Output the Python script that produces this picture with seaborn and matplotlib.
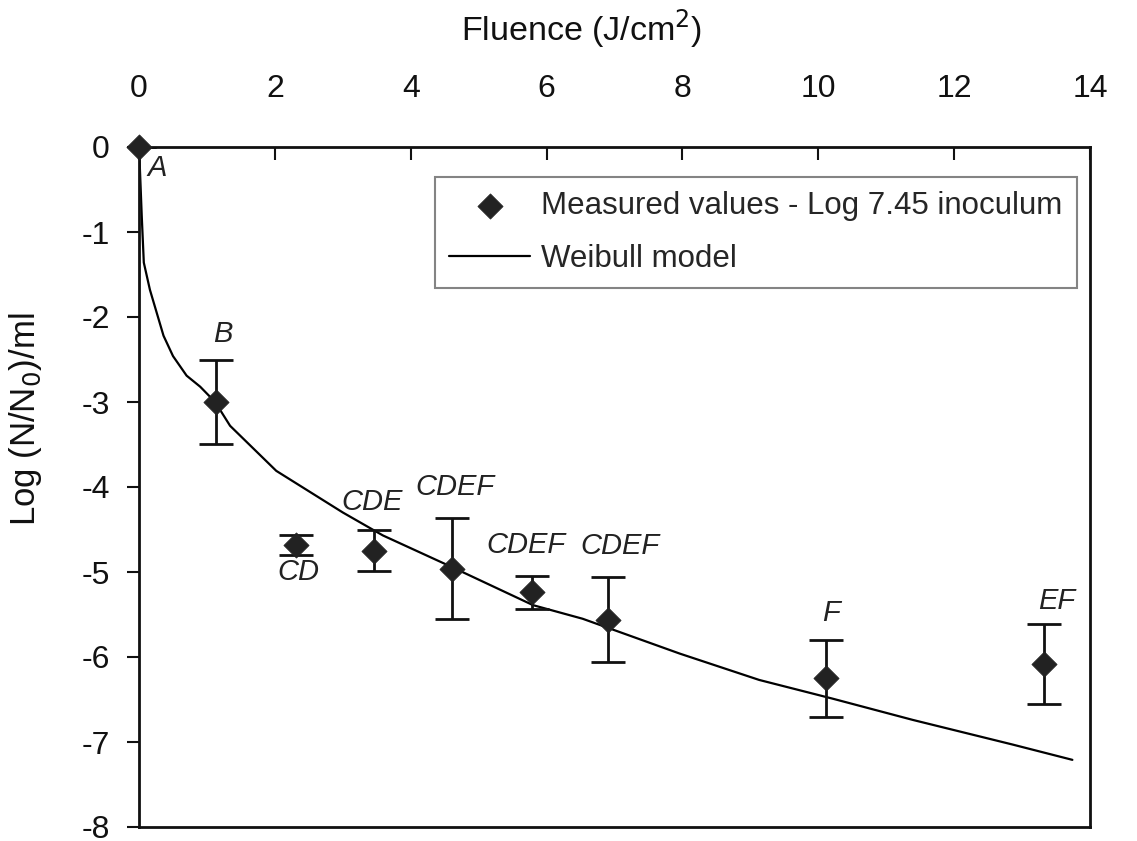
import matplotlib
matplotlib.use("Agg")
import matplotlib.pyplot as plt
import seaborn as sns
import pandas as pd

# ---- data ----
fluence = [0.0, 1.13, 2.31, 3.46, 4.60, 5.79, 6.90, 10.12, 13.32]
log_red = [0.0, -3.00, -4.68, -4.75, -4.96, -5.24, -5.56, -6.25, -6.08]
err = [0.0, 0.49, 0.12, 0.24, 0.59, 0.19, 0.50, 0.45, 0.47]
groups = ["A", "B", "CD", "CDE", "CDEF", "CDEF", "CDEF", "F", "EF"]

model_x = [0.0, 0.04, 0.07, 0.16, 0.36, 0.50, 0.70, 0.90, 1.12, 1.34, 2.02, 3.00,
           3.59, 4.60, 5.80, 6.53, 7.96, 9.13, 10.21, 11.39, 12.86, 13.74]
model_y = [0.0, -0.82, -1.36, -1.68, -2.22, -2.46, -2.69, -2.82, -3.00, -3.28, -3.81,
           -4.30, -4.57, -4.94, -5.39, -5.55, -5.96, -6.27, -6.49, -6.74, -7.03, -7.21]

x_ticks = [0, 2, 4, 6, 8, 10, 12, 14]
y_ticks = [0, -1, -2, -3, -4, -5, -6, -7, -8]

# label offsets (pixels) relative to each point
label_offsets = [(18, -21), (7, 68), (2, -27), (-2, 49), (3, 82), (-6, 47),
                 (12, 74), (5, 65), (13, 63)]

sns.set_theme(style="white")
plt.rcParams["font.family"] = ["Liberation Sans", "DejaVu Sans"]
plt.rcParams["axes.unicode_minus"] = False

fig = plt.figure(figsize=(11.37, 8.41), dpi=100)
ax_bottom = 1 - 827 / 841
ax_top = 1 - 147 / 841
ax = fig.add_axes([0.1223, ax_bottom, 0.9587 - 0.1223, ax_top - ax_bottom])

meas = pd.DataFrame({"x": fluence, "y": log_red})
model = pd.DataFrame({"x": model_x, "y": model_y})

sns.lineplot(data=model, x="x", y="y", ax=ax, color="black", linewidth=1.6,
             sort=False, label="Weibull model", zorder=2)
ax.errorbar(fluence, log_red, yerr=err, fmt="none", ecolor="#111111",
            elinewidth=2.0, capsize=12, capthick=2.0, zorder=3)
sns.scatterplot(data=meas, x="x", y="y", ax=ax, marker="D", s=165,
                color="#222222", edgecolor="#222222", linewidth=0.5,
                label="Measured values - Log 7.45 inoculum", zorder=4, clip_on=False)

for (xx, yy, g, off) in zip(fluence, log_red, groups, label_offsets):
    ax.annotate(g, xy=(xx, yy), xytext=off, textcoords="offset pixels",
                ha="center", va="center", fontsize=21, style="italic",
                color="#222222")

ax.set_xlim(0, 14)
ax.set_ylim(-8, 0)
ax.set_xticks(x_ticks)
ax.set_yticks(y_ticks)
ax.set_xticklabels([str(v) for v in x_ticks])
ax.set_yticklabels([str(v) for v in y_ticks])

ax.xaxis.tick_top()
ax.xaxis.set_label_position("top")
ax.tick_params(axis="x", direction="in", length=9, width=1.5, pad=31,
               labelsize=23, colors="#111111", top=True, bottom=False)
ax.tick_params(axis="y", direction="out", length=9, width=1.5, pad=12,
               labelsize=23, colors="#111111", left=True)

for s in ax.spines.values():
    s.set_visible(True)
    s.set_color("#111111")
    s.set_linewidth(2.0)

ax.set_xlabel("Fluence (J/cm$^2$)", fontsize=24.5, color="#111111")
ax.xaxis.set_label_coords(0.465, 1.157)
ax.set_ylabel("Log (N/N$_0$)/ml", fontsize=25, color="#111111")
ax.yaxis.set_label_coords(-0.100, 0.60)

handles, labels = ax.get_legend_handles_labels()
order = [labels.index("Measured values - Log 7.45 inoculum"), labels.index("Weibull model")]
leg = ax.legend([handles[i] for i in order], [labels[i] for i in order],
                loc="upper right", bbox_to_anchor=(0.986, 0.956),
                borderaxespad=0, frameon=True, fancybox=False, fontsize=22.5,
                handlelength=2.6, handletextpad=0.35, borderpad=0.45,
                labelspacing=0.75)
leg.get_frame().set_edgecolor("#666666")
leg.get_frame().set_linewidth(1.5)

fig.savefig("out.png", dpi=100)
